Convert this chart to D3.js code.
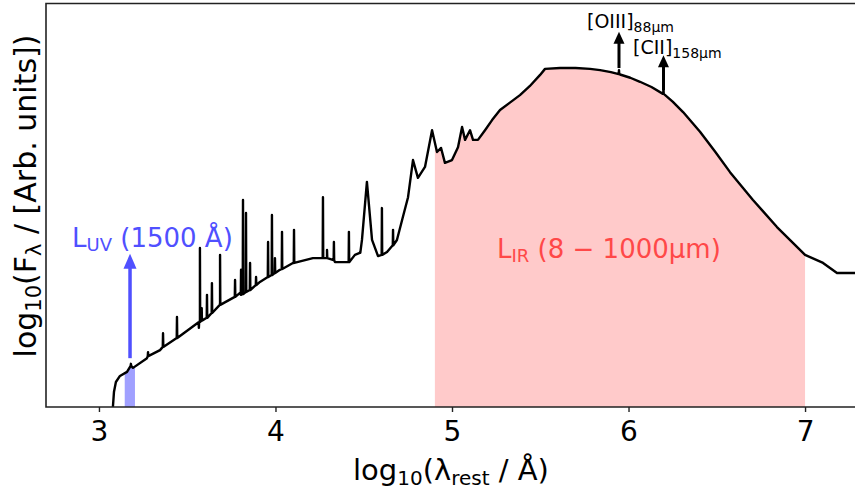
<!DOCTYPE html>
<html>
<head>
<meta charset="utf-8">
<script src="https://cdn.jsdelivr.net/npm/d3@7"></script>
<style>
  body { margin: 0; background: #fff; }
  svg { font-family: "DejaVu Sans", sans-serif; }
</style>
</head>
<body>
<svg id="chart" width="855" height="491"></svg>
<script>
// continuum of the SED: log10(wavelength / Å) and log10(flux) in arbitrary units
const contWave = [3.079, 3.085, 3.096, 3.119, 3.159, 3.193, 3.272, 3.346, 3.459, 3.572, 3.686, 3.799,
  3.912, 4.025, 4.099, 4.212, 4.292, 4.337, 4.394, 4.450, 4.490, 4.518, 4.547, 4.581, 4.632, 4.688,
  4.717, 4.751, 4.779, 4.807, 4.847, 4.887, 4.915, 4.938, 4.960, 5.000, 5.034, 5.057, 5.074, 5.102,
  5.119, 5.147, 5.187, 5.227, 5.272, 5.330, 5.385, 5.440, 5.499, 5.527, 5.612, 5.700, 5.782, 5.839,
  5.900, 5.952, 6.010, 6.065, 6.130, 6.195, 6.250, 6.309, 6.405, 6.490, 6.575, 6.705, 6.841, 7.000,
  7.102, 7.181, 7.283];
const contFlux = [0.00, 0.37, 0.62, 0.77, 0.87, 0.97, 1.21, 1.41, 1.76, 2.16, 2.58, 2.83,
  3.10, 3.40, 3.57, 3.69, 3.69, 3.59, 3.59, 3.77, 4.14, 5.58, 4.14, 3.74, 3.84, 4.14,
  4.63, 5.20, 6.12, 5.68, 5.95, 6.86, 6.32, 6.42, 6.05, 6.12, 6.44, 6.94, 6.62, 6.86,
  6.62, 6.62, 6.86, 7.11, 7.36, 7.55, 7.73, 7.95, 8.23, 8.38, 8.40, 8.40, 8.38, 8.35,
  8.30, 8.24, 8.16, 8.06, 7.93, 7.76, 7.57, 7.31, 6.82, 6.33, 5.82, 5.13, 4.46, 3.77,
  3.57, 3.32, 3.32];

// narrow emission lines: position, peak and local continuum level
const lineWave = [3.181, 3.278, 3.363, 3.442, 3.566, 3.572, 3.582, 3.612, 3.640, 3.686, 3.771, 3.805,
  3.816, 3.833, 3.856, 3.890, 3.958, 3.980, 3.997, 4.037, 4.105, 4.269, 4.292, 4.331, 4.416, 4.479,
  4.603, 4.666, 5.946, 6.198];
const linePeak = [1.07, 1.36, 1.83, 2.23, 1.96, 3.94, 2.45, 2.78, 3.07, 3.77, 3.15, 3.40,
  5.13, 4.81, 3.57, 3.22, 4.09, 4.76, 3.69, 4.34, 4.39, 5.20, 3.89, 4.09, 4.34, 3.84,
  4.93, 4.39, 8.35, 7.88];
const lineBase = [1.02, 1.26, 1.49, 1.71, 2.10, 2.11, 2.14, 2.21, 2.33, 2.53, 2.73, 2.78,
  2.80, 2.85, 2.90, 3.02, 3.22, 3.27, 3.32, 3.42, 3.57, 3.69, 3.69, 3.64, 3.59, 3.82,
  3.77, 4.01, 8.25, 7.76];

const xTicks = [3, 4, 5, 6, 7];
const uvBand = [3.146, 3.204];
const irBand = [4.903, 7.0];

// annotation arrows: wavelength, tail flux, head flux
const arrowWave = [3.176, 5.946, 6.198];
const arrowFrom = [1.21, 8.40, 7.85];
const arrowTo = [3.80, 9.30, 8.72];
const arrowColor = ["#5050ff", "#000", "#000"];

const svg = d3.select("#chart");
const mLeft = 46, mRight = 858, mTop = 3.5, mBottom = 407;

const x = d3.scaleLinear().domain([2.7, 7.3]).range([mLeft, mRight]);
const y = d3.scaleLinear().domain([0, 10]).range([mBottom, mTop]);

// merge continuum + lines into one spectrum
let pts = contWave.map((w, i) => [w, contFlux[i]]);
lineWave.forEach((w, i) => {
    pts.push([w - 0.0015, lineBase[i]]);
    pts.push([w, linePeak[i]]);
    pts.push([w + 0.0015, lineBase[i]]);
});
pts.sort((a, b) => a[0] - b[0]);

const defs = svg.append("defs");
defs.append("clipPath").attr("id", "plotclip").append("rect")
    .attr("x", mLeft).attr("y", mTop).attr("width", mRight - mLeft).attr("height", mBottom - mTop);
defs.append("clipPath").attr("id", "irclip").append("rect")
    .attr("x", x(irBand[0])).attr("y", mTop).attr("width", x(irBand[1]) - x(irBand[0])).attr("height", mBottom - mTop);
defs.append("clipPath").attr("id", "uvclip").append("rect")
    .attr("x", x(uvBand[0])).attr("y", mTop).attr("width", x(uvBand[1]) - x(uvBand[0])).attr("height", mBottom - mTop);

const area = d3.area().x(d => x(d[0])).y0(mBottom).y1(d => y(d[1]));
const line = d3.line().x(d => x(d[0])).y(d => y(d[1]));

const plot = svg.append("g").attr("clip-path", "url(#plotclip)");

plot.append("path").datum(pts)
    .attr("clip-path", "url(#irclip)")
    .attr("d", area)
    .attr("fill", "#ffcaca");

plot.append("path").datum(pts)
    .attr("clip-path", "url(#uvclip)")
    .attr("d", area)
    .attr("fill", "#a0a0ff");

plot.append("path").datum(pts)
    .attr("d", line)
    .attr("fill", "none")
    .attr("stroke", "#000")
    .attr("stroke-width", 2.4)
    .attr("stroke-linejoin", "round");

// arrows
arrowWave.forEach((w, i) => {
    const ax = x(w), y0 = y(arrowFrom[i]), y1 = y(arrowTo[i]);
    const big = i === 0;
    const hw = big ? 6.5 : 5.5, hl = big ? 15 : 12, sw = big ? 3.5 : 3;
    svg.append("line")
        .attr("x1", ax).attr("x2", ax)
        .attr("y1", y0).attr("y2", y1 + hl - 1)
        .attr("stroke", arrowColor[i]).attr("stroke-width", sw);
    svg.append("path")
        .attr("d", `M${ax - hw},${y1 + hl} L${ax},${y1} L${ax + hw},${y1 + hl} Z`)
        .attr("fill", arrowColor[i]);
});

// axes frame
svg.append("path")
    .attr("d", `M${mRight},${mTop} H${mLeft} V${mBottom} H${mRight}`)
    .attr("fill", "none").attr("stroke", "#222").attr("stroke-width", 1.6);

const xAxis = svg.append("g").attr("transform", `translate(0,${mBottom})`)
    .call(d3.axisBottom(x).tickValues(xTicks).tickSize(5).tickPadding(9).tickFormat(d3.format("d")));
xAxis.select(".domain").remove();
xAxis.selectAll("line").attr("stroke", "#222").attr("stroke-width", 1.4);
xAxis.selectAll("text").attr("font-size", 28).attr("fill", "#000")
    .attr("font-family", "DejaVu Sans");

// axis labels
const xl = svg.append("text").attr("x", 451).attr("y", 480)
    .attr("text-anchor", "middle").attr("font-size", 29);
xl.append("tspan").text("log");
xl.append("tspan").attr("font-size", 20).attr("dy", 5).text("10");
xl.append("tspan").attr("dy", -5).text("(λ");
xl.append("tspan").attr("font-size", 20).attr("dy", 5).text("rest");
xl.append("tspan").attr("dy", -5).text(" / Å)");

const yl = svg.append("text")
    .attr("transform", "translate(36,196) rotate(-90)")
    .attr("text-anchor", "middle").attr("font-size", 30);
yl.append("tspan").text("log");
yl.append("tspan").attr("font-size", 21).attr("dy", 5).text("10");
yl.append("tspan").attr("dy", -5).text("(F");
yl.append("tspan").attr("font-size", 21).attr("dy", 5).text("λ");
yl.append("tspan").attr("dy", -5).text(" / [Arb. units])");

// band labels
const uv = svg.append("text").attr("x", 72).attr("y", 247)
    .attr("font-size", 26).attr("fill", "#5050ff");
uv.append("tspan").text("L");
uv.append("tspan").attr("font-size", 18).attr("dy", 4).text("UV");
uv.append("tspan").attr("dy", -4).text(" (1500 Å)");

const ir = svg.append("text").attr("x", 497).attr("y", 258)
    .attr("font-size", 26).attr("fill", "#ff4848");
ir.append("tspan").text("L");
ir.append("tspan").attr("font-size", 18).attr("dy", 4).text("IR");
ir.append("tspan").attr("dy", -4).text(" (8 − 1000μm)");

// line labels
const o3 = svg.append("text").attr("x", 587).attr("y", 28).attr("font-size", 19);
o3.append("tspan").text("[OIII]");
o3.append("tspan").attr("font-size", 14).attr("dy", 4).text("88μm");

const c2 = svg.append("text").attr("x", 633).attr("y", 54).attr("font-size", 19);
c2.append("tspan").text("[CII]");
c2.append("tspan").attr("font-size", 14).attr("dy", 4).text("158μm");
</script>
</body>
</html>
